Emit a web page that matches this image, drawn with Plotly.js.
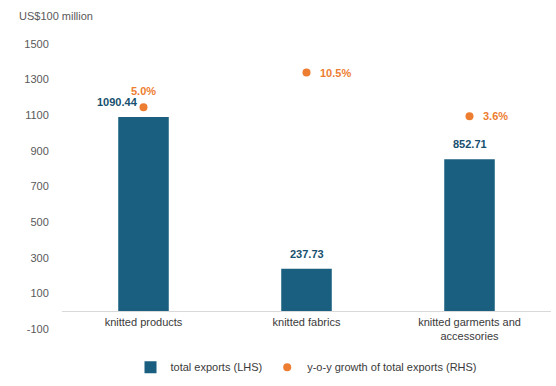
<!DOCTYPE html>
<html>
<head>
<meta charset="utf-8">
<script src="https://cdn.plot.ly/plotly-3.0.1.min.js"></script>
<style>html,body{margin:0;padding:0;background:#fff;}#chart{width:556px;height:386px;}</style>
</head>
<body>
<div id="chart"></div>
<script>
const categories = ["knitted products", "knitted fabrics", "knitted garments and<br>accessories"];
const totalExports = [1090.44, 237.73, 852.71];
const yoyGrowth = [5.0, 10.5, 3.6];
const yTicks = [-100, 100, 300, 500, 700, 900, 1100, 1300, 1500];

const barColor = "#1A5F80";
const dotColor = "#ED7D31";
const font = "Liberation Sans, Arial, sans-serif";

const traces = [
  {
    type: "bar", name: "total exports (LHS)", x: categories, y: totalExports,
    marker: {color: barColor}, hoverinfo: "none"
  },
  {
    type: "scatter", mode: "markers", name: "y-o-y growth of total exports (RHS)",
    x: categories, y: yoyGrowth, yaxis: "y2",
    marker: {color: dotColor, size: 8}, hoverinfo: "none"
  }
];

const barLabelShift = [-26, 0, 0];
const pctLabelPos = [
  {xanchor: "center", yanchor: "bottom", xshift: 0, yshift: 8},
  {xanchor: "left", yanchor: "middle", xshift: 11, yshift: 0},
  {xanchor: "left", yanchor: "middle", xshift: 11, yshift: 0}
];

const annotations = [];
categories.forEach((c, i) => {
  annotations.push({
    x: c, y: totalExports[i], xref: "x", yref: "y",
    text: "<b>" + totalExports[i].toFixed(2) + "</b>",
    showarrow: false, xanchor: "center", yanchor: "bottom",
    xshift: barLabelShift[i], yshift: 7,
    font: {family: font, size: 11, color: "#17506E"}
  });
  annotations.push(Object.assign({
    x: c, y: yoyGrowth[i], xref: "x", yref: "y2",
    text: "<b>" + yoyGrowth[i].toFixed(1) + "%</b>",
    showarrow: false,
    font: {family: font, size: 11, color: dotColor}
  }, pctLabelPos[i]));
});
annotations.push({
  xref: "paper", yref: "paper", x: -0.092, y: 1.097, xanchor: "left", yanchor: "middle",
  text: "US$100 million", showarrow: false,
  font: {family: font, size: 11, color: "#595959"}
});

const layout = {
  width: 556, height: 386,
  margin: {l: 62, r: 5, t: 44, b: 56},
  paper_bgcolor: "#fff", plot_bgcolor: "#fff",
  font: {family: font, size: 11, color: "#595959"},
  showlegend: true,
  legend: {
    orientation: "h", x: 0.5, xanchor: "center", y: -0.13, yanchor: "middle",
    font: {family: font, size: 11, color: "#3A3A3A"},
    itemwidth: 30, tracegroupgap: 0
  },
  bargap: 0.69,
  xaxis: {
    type: "category", anchor: "free", position: 0.062,
    showline: true, linecolor: "#D9D9D9", linewidth: 1,
    showgrid: false, ticks: "", tickfont: {family: font, size: 11, color: "#3A3A3A"},
    fixedrange: true
  },
  yaxis: {
    range: [-100, 1500], tickvals: yTicks, ticktext: yTicks.map(String),
    showgrid: false, zeroline: false, showline: false,
    ticks: "outside", ticklen: 10, tickcolor: "rgba(0,0,0,0)",
    tickfont: {family: font, size: 11, color: "#595959"},
    fixedrange: true
  },
  yaxis2: {
    overlaying: "y", side: "right", range: [-30, 15], visible: false,
    showgrid: false, zeroline: false
  },
  annotations: annotations
};

Plotly.newPlot("chart", traces, layout, {staticPlot: true, displayModeBar: false});
</script>
</body>
</html>
